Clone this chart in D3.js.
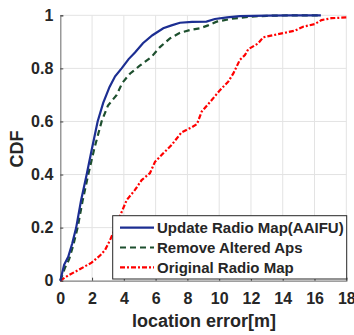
<!DOCTYPE html>
<html><head><meta charset="utf-8">
<script src="https://cdn.jsdelivr.net/npm/d3@7"></script>
<style>body{margin:0;background:#fff;} text{font-family:"Liberation Sans",Arial,sans-serif;font-weight:bold;fill:#262626;}</style>
</head><body><svg id="c" width="354" height="335"></svg>
<script>
const xTicks=[0,2,4,6,8,10,12,14,16,18];
const yTicks=[0,0.2,0.4,0.6,0.8,1];
const yTickLabels=["0","0.2","0.4","0.6","0.8","1"];
const seriesNames=["Update Radio Map(AAIFU)","Remove Altered Aps","Original Radio Map"];
const updateX=[0,0.24,0.5,0.75,1.0,1.3,1.66,2.0,2.35,2.7,3.1,3.45,3.86,4.3,4.7,5.2,5.8,6.48,7.0,7.53,8.3,9.2,9.73,10.5,11.3,13,14.5,16.4];
const updateY=[0,0.06,0.09,0.14,0.2,0.3,0.4,0.5,0.6,0.67,0.73,0.77,0.8,0.835,0.86,0.895,0.925,0.951,0.962,0.972,0.975,0.976,0.986,0.992,0.997,0.999,1.0,1.0];
const removeX=[0,0.3,0.55,0.8,1.09,1.4,1.76,2.15,2.6,3.0,3.55,3.9,4.38,5.0,5.75,6.27,6.9,7.53,8.2,8.79,9.3,9.84,10.8,11.93,13,14.5,16.4];
const removeY=[0,0.05,0.08,0.13,0.2,0.3,0.4,0.5,0.6,0.66,0.7,0.745,0.78,0.81,0.844,0.88,0.913,0.934,0.945,0.951,0.962,0.976,0.987,0.995,0.998,1.0,1.0];
const origX=[0,0.5,1.13,1.97,2.5,2.81,3.13,3.4,3.65,4.18,4.7,5.12,5.64,5.96,6.48,7.0,7.63,8.27,8.6,8.9,9.52,10.05,10.57,10.89,11.3,11.62,11.83,12.45,12.77,13.71,14.76,15.28,16.02,16.44,17.07,18.0];
const origY=[0,0.02,0.04,0.068,0.095,0.115,0.153,0.19,0.229,0.304,0.342,0.379,0.405,0.448,0.48,0.511,0.559,0.578,0.59,0.637,0.68,0.718,0.75,0.781,0.832,0.85,0.872,0.894,0.917,0.929,0.942,0.957,0.967,0.982,0.989,0.992];
const colors=["#1c2e92","#1d4f2e","#ff0000"];
const dashes=[null,"6,4","5,2,2,2"];

const svg=d3.select("#c");
const x=d3.scaleLinear().domain([0,18]).range([60.3,346.3]);
const y=d3.scaleLinear().domain([0,1]).range([280.7,15.3]);

// grid
svg.append("g").selectAll("line").data(xTicks.slice(1)).join("line")
 .attr("x1",d=>x(d)).attr("x2",d=>x(d)).attr("y1",y(0)).attr("y2",y(1))
 .attr("stroke","#e3e3e3").attr("stroke-width",1);
svg.append("g").selectAll("line").data(yTicks.slice(1)).join("line")
 .attr("x1",x(0)).attr("x2",x(18)).attr("y1",d=>y(d)).attr("y2",d=>y(d))
 .attr("stroke","#e3e3e3").attr("stroke-width",1);

// axes
const xa=svg.append("g").attr("transform",`translate(0,${y(0)})`)
 .call(d3.axisBottom(x).tickValues(xTicks).tickSize(-3).tickPadding(8).tickFormat(d3.format("d")));
const ya=svg.append("g").attr("transform",`translate(${x(0)},0)`)
 .call(d3.axisLeft(y).tickValues(yTicks).tickSize(-3).tickPadding(7).tickFormat((d,i)=>yTickLabels[i]));
[xa,ya].forEach(a=>{a.select(".domain").attr("stroke","#808080").attr("stroke-width",1.2);
 a.selectAll(".tick line").attr("stroke","#404040");
 a.selectAll("text").style("font-size","16px").style("font-weight","bold").attr("fill","#262626").style("font-family","Liberation Sans, Arial, sans-serif");});
xa.selectAll("text").attr("y",12).attr("dy","0.72em");

// lines
const data=[[updateX,updateY],[removeX,removeY],[origX,origY]];
const line=d3.line().x(d=>x(d[0])).y(d=>y(d[1]));
[2,1,0].forEach(i=>{
 const pts=data[i][0].map((v,j)=>[v,data[i][1][j]]);
 svg.append("path").datum(pts).attr("d",line).attr("fill","none")
  .attr("stroke",colors[i]).attr("stroke-width",2.2).attr("stroke-dasharray",dashes[i]);
});

// labels
svg.append("text").attr("x",204).attr("y",327).attr("text-anchor","middle").style("font-size","18px").text("location error[m]");
svg.append("text").attr("transform","translate(23,149) rotate(-90)").attr("text-anchor","middle").style("font-size","18px").text("CDF");

// legend
const lg=svg.append("g");
lg.append("rect").attr("x",112.7).attr("y",215.7).attr("width",234).attr("height",63.3).attr("fill","#fff").attr("stroke","#262626").attr("stroke-width",1);
seriesNames.forEach((n,i)=>{
 const yy=227.7+i*19.8;
 lg.append("line").attr("x1",120).attr("x2",154).attr("y1",yy).attr("y2",yy).attr("stroke",colors[i]).attr("stroke-width",2.2).attr("stroke-dasharray",dashes[i]);
 lg.append("text").attr("x",157).attr("y",yy).attr("dy","0.36em").style("font-size","15px").text(n);
});
</script></body></html>
